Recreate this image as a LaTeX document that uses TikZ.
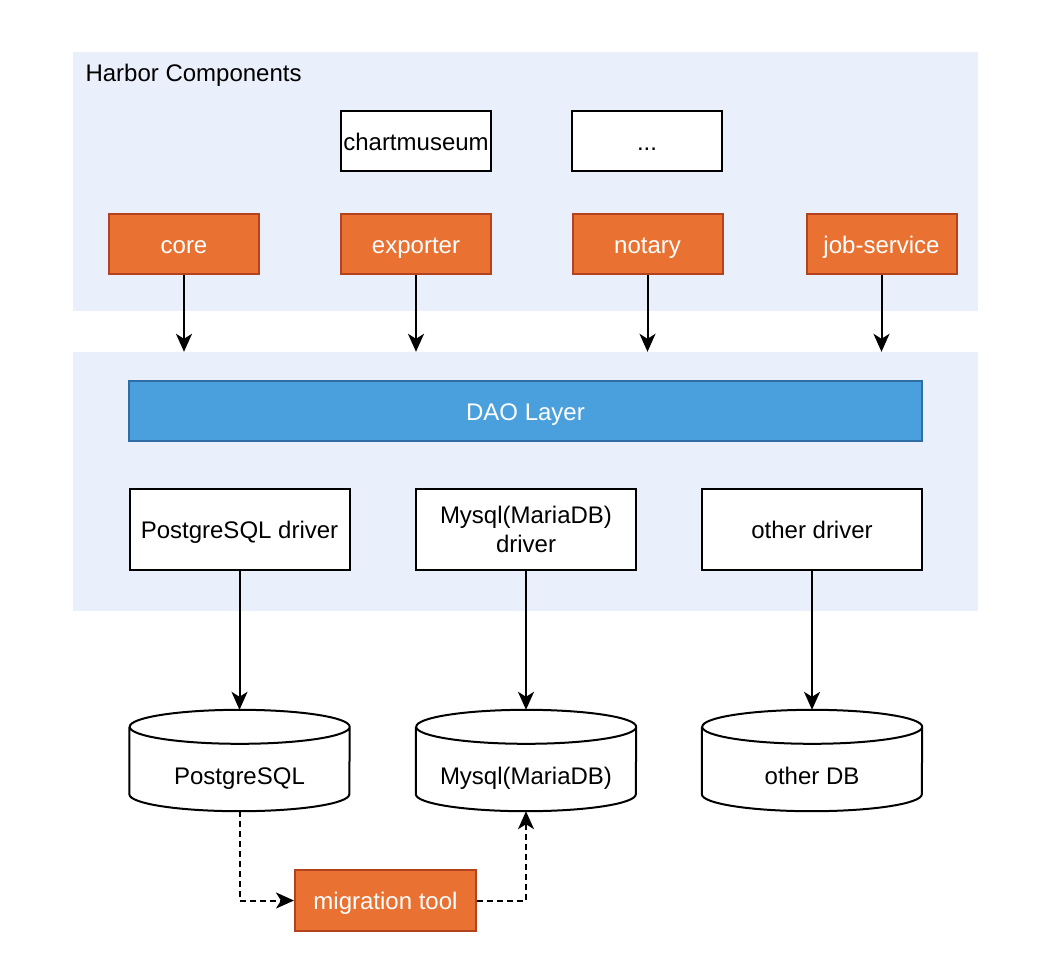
\documentclass[tikz,border=0pt]{standalone}
\usepackage{fontspec}
\setmainfont{Liberation Sans}
\usetikzlibrary{arrows.meta}
\definecolor{panelblue}{RGB}{234,240,251}
\definecolor{harborange}{RGB}{233,113,50}
\definecolor{harborangeline}{RGB}{180,66,30}
\definecolor{daoblue}{RGB}{74,160,220}
\definecolor{daoline}{RGB}{46,110,165}
\begin{document}
\begin{tikzpicture}[x=1pt,y=-1pt,
  font=\fontsize{24}{29}\selectfont,
  lbl/.style={text height=22pt, text depth=4pt},
  panel/.style={fill=panelblue, minimum width=905pt, minimum height=259pt, inner sep=0pt},
  box/.style={lbl, draw, line width=2pt, fill=white, minimum width=150pt, minimum height=60pt, inner sep=0pt},
  comp/.style={box, fill=harborange, draw=harborangeline, text=white},
  drv/.style={box, minimum width=220pt, minimum height=81pt, align=center},
  db/.style={minimum width=220pt, minimum height=101pt, inner sep=0pt},
  arr/.style={line width=2pt, -{Stealth[length=18pt,width=16pt,inset=5pt]}},
  mig/.style={arr, dash pattern=on 6pt off 4pt}]
\useasboundingbox (0,0) rectangle (1038,964);
% panels
\node[panel] (harbor) at (525.5,181.5) {};
\node[panel] (dbpanel) at (525.5,481.5) {};
\node[lbl, anchor=west] (title) at (82,72) {Harbor Components};
% components
\node[box] (chart) at (416,141) {chartmuseum};
\node[box] (more) at (647,141) {...};
\node[comp] (core) at (184,244) {core};
\node[comp] (exporter) at (416,244) {exporter};
\node[comp] (notary) at (647.5,244) {notary};
\node[comp] (jobsvc) at (881.5,244) {job-service};
% dao layer and drivers
\node[box, fill=daoblue, draw=daoline, text=white, minimum width=793pt] (dao) at (525.5,411) {DAO Layer};
\node[drv] (pgdrv) at (239.5,529.5) {PostgreSQL driver};
\node[drv, text height=, text depth=] (mydrv) at (526,529.5) {Mysql(MariaDB)\\driver};
\node[drv] (otherdrv) at (812,529.5) {other driver};
% databases
\node[db] (pgdb) at (239.5,760.5) {};
\node[db] (mydb) at (526,760.5) {};
\node[db] (otherdb) at (812,760.5) {};
\foreach \db in {pgdb,mydb,otherdb}
  \draw[line width=2pt] ([yshift=-17pt]\db.north west) -- ([yshift=17pt]\db.south west)
    arc[start angle=180, end angle=360, x radius=110pt, y radius=17pt]
    -- ([yshift=-17pt]\db.north east)
    arc[start angle=0, end angle=360, x radius=110pt, y radius=17pt];
\node[lbl] (pgdbtext) at ([yshift=-15pt]pgdb.center) {PostgreSQL};
\node[lbl] (mydbtext) at ([yshift=-15pt]mydb.center) {Mysql(MariaDB)};
\node[lbl] (otherdbtext) at ([yshift=-15pt]otherdb.center) {other DB};
\node[comp, minimum width=181pt, minimum height=61pt] (migtool) at (385.5,900.5) {migration tool};
% connectors
\foreach \c in {core,exporter,notary,jobsvc}
  \draw[arr] (\c.south) -- (\c.south |- dbpanel.north);
\draw[arr] (pgdrv.south) -- (pgdb.north);
\draw[arr] (mydrv.south) -- (mydb.north);
\draw[arr] (otherdrv.south) -- (otherdb.north);
\draw[mig] (pgdb.south) |- (migtool.west);
\draw[mig] (migtool.east) -| (mydb.south);
\end{tikzpicture}
\end{document}
